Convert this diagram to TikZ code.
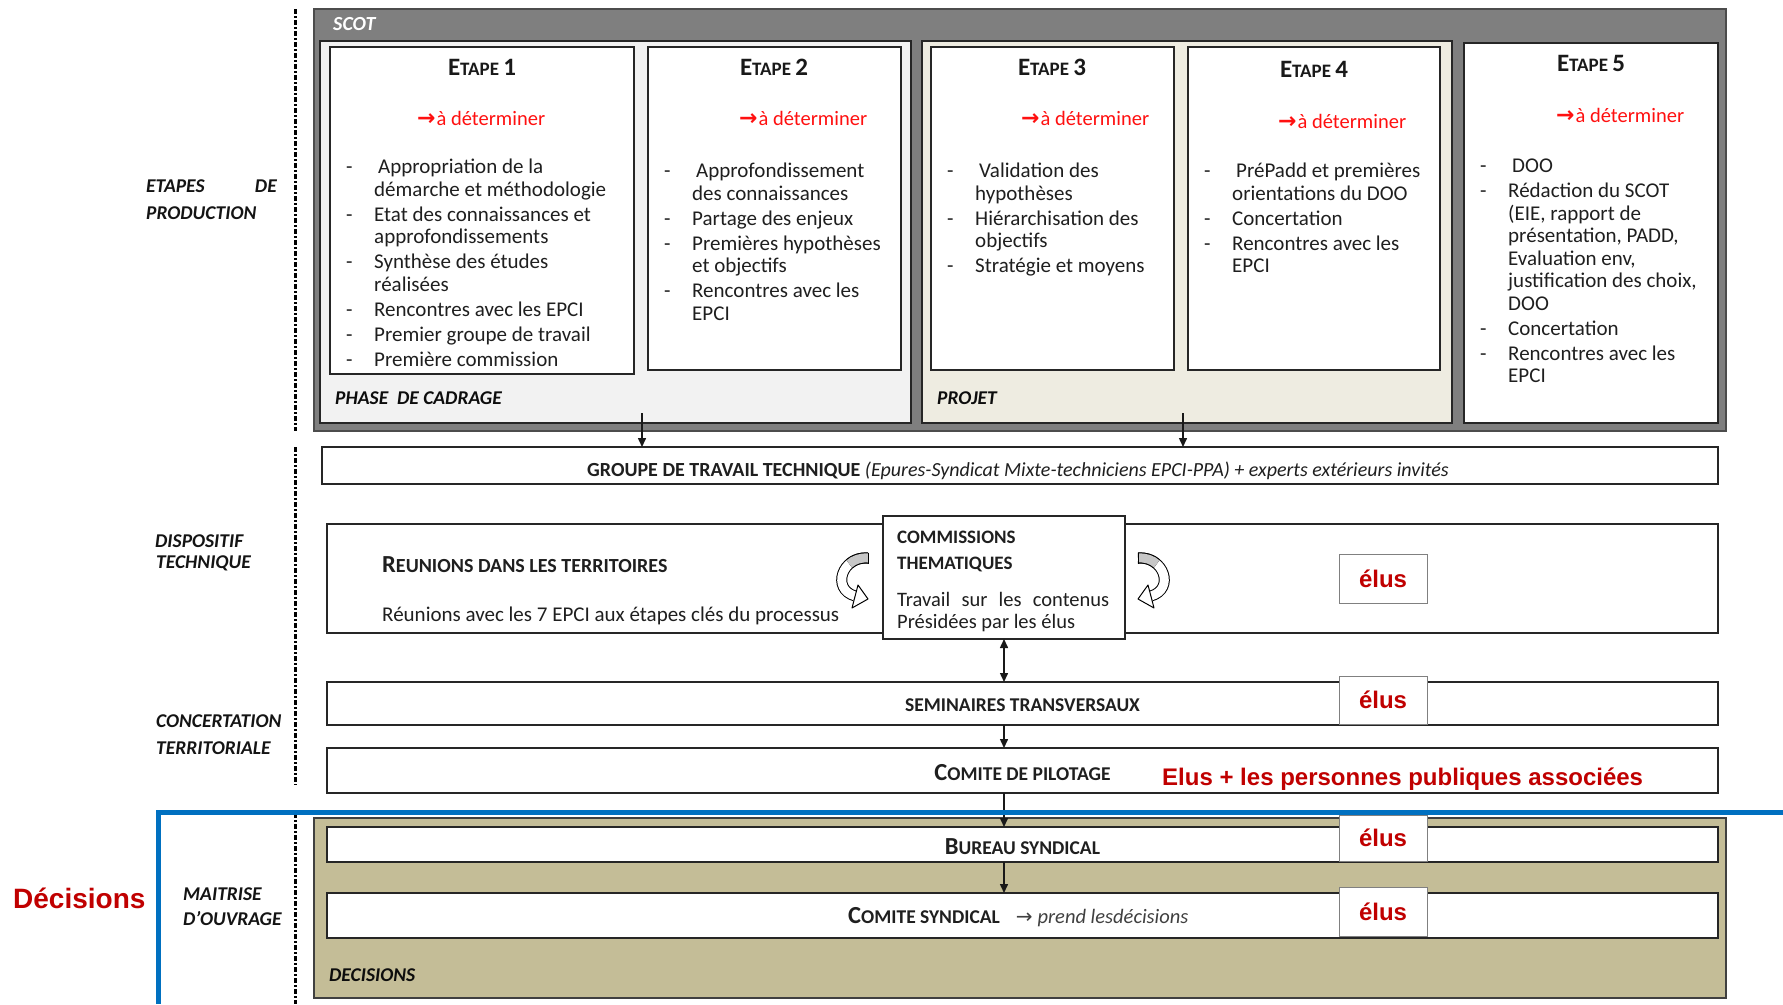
\documentclass[tikz,border=0pt]{standalone}
\usepackage{fontspec}
\setmainfont{Carlito}
\newfontfamily\arialf{Liberation Sans}
\newfontfamily\djv{DejaVu Sans}
\usetikzlibrary{arrows.meta}
\definecolor{scotgray}{HTML}{7F7F7F}
\definecolor{phasegray}{HTML}{F2F2F2}
\definecolor{projbeige}{HTML}{EEECE1}
\definecolor{decbeige}{HTML}{C4BD97}
\definecolor{elusred}{HTML}{C00000}
\definecolor{detred}{HTML}{FF1010}
\definecolor{blueline}{HTML}{0070C0}
\newcommand{\fsz}[2]{\fontsize{#1pt}{#2pt}\selectfont}
\newcommand{\capA}[1]{{\fsz{24.5}{24}#1}}
\newcommand{\etp}[1]{{\fsz{25}{25}E}TAPE {\fsz{25}{25}#1}}
\newcommand{\detarr}{{\djv\bfseries\fsz{22}{22}→}\hspace{1pt}à déterminer}
\tikzset{
  box/.style={draw=black!85, line width=2pt, fill=white, anchor=north west, inner sep=0pt, outer sep=0pt},
  elusbox/.style={draw=black!50, line width=1pt, fill=white, minimum width=88pt, inner sep=0pt, font=\arialf\bfseries\fsz{24}{26}, text=elusred},
  lbl/.style={anchor=base west, inner sep=0pt, font=\bfseries\itshape\fsz{19.5}{22}, text=black!92},
  body/.style={inner sep=0pt, font=\fsz{21}{22.5}, text=black!88},
  det/.style={anchor=base west, inner sep=0pt, font=\fsz{20.5}{22.5}, text=detred},
  title/.style={anchor=base, inner sep=0pt, font=\bfseries\fsz{19}{22}, text=black!90},
  caps/.style={inner sep=0pt, font=\bfseries\fsz{19.5}{22}, text=black!88},
  arr/.style={-{Triangle[length=9pt,width=8pt]}, line width=1.5pt, draw=black!90},
  dblarr/.style={{Triangle[length=9pt,width=8pt]}-{Triangle[length=9pt,width=8pt]}, line width=1.5pt, draw=black!90},
  sep/.style={line width=3pt, dash pattern=on 5pt off 2pt on 2pt off 2pt},
  curvarr/.pic={
    \draw[line width=1pt, double=white, double distance=9pt] (0,0) .. controls (-26,-2) and (-37,31) .. (-13,38);
    \draw[line width=1pt, double=black!22, double distance=9pt] (0,0) .. controls (-7.8,-0.6) and (-14.2,1.9) .. (-18.7,5.9);
    \draw[line width=1pt] (0,-5.5) -- (0,5.5);
    \draw[line width=1pt, fill=white, line join=round] (-10,27) -- (0,41) -- (-16,50) -- cycle;
  }
}
\begin{document}
\begin{tikzpicture}[x=1pt,y=-1pt]
\useasboundingbox (0,0) rectangle (1783,1004);
\fill[white] (0,0) rectangle (1783,1004);

% separators
\draw[sep] (295,9) -- (295,431);
\draw[sep] (295,447) -- (295,785);
\draw[sep] (295,813) -- (295,1004);

% left labels
\node[lbl] (lab1a) at (146,192.5) {ETAPES};
\node[lbl, anchor=base east] (lab1b) at (277,192.5) {DE};
\node[lbl] (lab1c) at (146,219) {PRODUCTION};
\node[lbl] (lab2a) at (155,547) {DISPOSITIF};
\node[lbl] (lab2b) at (156,568) {TECHNIQUE};
\node[lbl] (lab3a) at (156,727) {CONCERTATION};
\node[lbl] (lab3b) at (156,754) {TERRITORIALE};
\node[lbl] (lab4a) at (183,900) {MAITRISE};
\node[lbl] (lab4b) at (183,925) {D'OUVRAGE};

% SCOT frame
\node[box, fill=scotgray, draw=black!70, line width=2.5pt, minimum width=1412pt, minimum height=422pt] (scot) at (314,9) {};
\node[anchor=base west, inner sep=0pt, font=\bfseries\itshape\fsz{20}{22}, text=white] (scotlbl) at (333,30) {SCOT};
\node[box, fill=phasegray, minimum width=591pt, minimum height=382pt] (phase) at (320,41) {};
\node[box, fill=projbeige, minimum width=530pt, minimum height=382pt] (projet) at (922,41) {};
\node[box, minimum width=254pt, minimum height=380pt] (e5) at (1464,43) {};
\node[box, minimum width=304pt, minimum height=327pt] (e1) at (330,47) {};
\node[box, minimum width=253pt, minimum height=323pt] (e2) at (648,47) {};
\node[box, minimum width=243pt, minimum height=323pt] (e3) at (931,47) {};
\node[box, minimum width=252pt, minimum height=323pt] (e4) at (1188,47) {};

\node[lbl, text=black!95] (phlbl) at (335,404) {PHASE\ \ DE CADRAGE};
\node[lbl, text=black!95] (prlbl) at (937,404) {PROJET};

% titles
\node[title] (t1) at (482,75.5) {\etp{1}};
\node[title] (t2) at (774,75.5) {\etp{2}};
\node[title] (t3) at (1052,75.5) {\etp{3}};
\node[title] (t4) at (1314,77.5) {\etp{4}};
\node[title] (t5) at (1591,71.5) {\etp{5}};

% a determiner
\node[det] (d1) at (417,125) {\detarr};
\node[det] (d2) at (739,125) {\detarr};
\node[det] (d3) at (1021,125) {\detarr};
\node[det] (d4) at (1278,128) {\detarr};
\node[det] (d5) at (1556,122) {\detarr};

% lists
\node[body, anchor=north west] (l1) at (346,158) {\begin{tabular}{@{}p{28pt}@{}l@{}}
-& \hspace{4pt}Appropriation de la\\
 & démarche et méthodologie\\[2.5pt]
-& Etat des connaissances et\\
 & approfondissements\\[2.5pt]
-& Synthèse des études\\
 & réalisées\\[2.5pt]
-& Rencontres avec les EPCI\\[2.5pt]
-& Premier groupe de travail\\[2.5pt]
-& Première commission
\end{tabular}};
\node[body, anchor=north west] (l2) at (664,162) {\begin{tabular}{@{}p{28pt}@{}l@{}}
-& \hspace{4pt}Approfondissement\\
 & des connaissances\\[2.5pt]
-& Partage des enjeux\\[2.5pt]
-& Premières hypothèses\\
 & et objectifs\\[2.5pt]
-& Rencontres avec les\\
 & EPCI
\end{tabular}};
\node[body, anchor=north west] (l3) at (947,162) {\begin{tabular}{@{}p{28pt}@{}l@{}}
-& \hspace{4pt}Validation des\\
 & hypothèses\\[2.5pt]
-& Hiérarchisation des\\
 & objectifs\\[2.5pt]
-& Stratégie et moyens
\end{tabular}};
\node[body, anchor=north west] (l4) at (1204,162) {\begin{tabular}{@{}p{28pt}@{}l@{}}
-& \hspace{4pt}PréPadd et premières\\
 & orientations du DOO\\[2.5pt]
-& Concertation\\[2.5pt]
-& Rencontres avec les\\
 & EPCI
\end{tabular}};
\node[body, anchor=north west] (l5) at (1480,157) {\begin{tabular}{@{}p{28pt}@{}l@{}}
-& \hspace{4pt}DOO\\[2.5pt]
-& Rédaction du SCOT\\
 & (EIE, rapport de\\
 & présentation, PADD,\\
 & Evaluation env,\\
 & justification des choix,\\
 & DOO\\[2.5pt]
-& Concertation\\[2.5pt]
-& Rencontres avec les\\
 & EPCI
\end{tabular}};

% groupe de travail technique
\node[box, minimum width=1396pt, minimum height=37pt] (groupe) at (322,447) {};
\node[anchor=base west, inner sep=0pt, font=\fsz{20}{22}, text=black!88] (groupet) at (587,476)
  {{\bfseries GROUPE DE TRAVAIL TECHNIQUE} {\itshape (Epures-Syndicat Mixte-techniciens EPCI-PPA) + experts extérieurs invités}};
\coordinate (a1) at (642,413);
\coordinate (a2) at (1183,413);
\draw[arr] (a1) -- (a1 |- groupe.north);
\draw[arr] (a2) -- (a2 |- groupe.north);

% reunions
\node[box, minimum width=1391pt, minimum height=109pt] (reun) at (327,524) {};
\node[caps, anchor=base west, font=\bfseries\fsz{20}{22}] (reunt) at (382,572) {\capA{R}EUNIONS DANS LES TERRITOIRES};
\node[body, anchor=base west, font=\fsz{21}{22.5}] (reund) at (382,621) {Réunions avec les 7 EPCI aux étapes clés du processus};

% commissions
\node[box, minimum width=242pt, minimum height=123pt] (comm) at (883,516) {};
\node[anchor=base west, inner sep=0pt, font=\bfseries\fsz{19}{22}, text=black!88] (ct1) at (897,543) {COMMISSIONS};
\node[anchor=base west, inner sep=0pt, font=\bfseries\fsz{19}{22}, text=black!88] (ct2) at (897,569) {THEMATIQUES};
\node[body, anchor=base west, font=\fsz{20.5}{22.5}] (ct3) at (897,606) {\makebox[212pt][s]{Travail sur les contenus}};
\node[body, anchor=base west, font=\fsz{20.5}{22.5}] (ct4) at (897,628) {Présidées par les élus};

\pic at (868,558) {curvarr};
\pic[xscale=-1] at (1138,558) {curvarr};

\node[elusbox, minimum height=49pt] (el1) at (1383,578.5) {élus};

% seminaires & comite de pilotage
\node[box, minimum width=1391pt, minimum height=43pt] (semi) at (327,682) {};
\node[caps] (semit) at ([yshift=-2pt]semi.center) {SEMINAIRES TRANSVERSAUX};
\node[elusbox, minimum height=48pt] (el2) at (1383,700) {élus};
\node[box, minimum width=1391pt, minimum height=45pt] (pilot) at (327,748) {};
\node[caps] (pilott) at ([yshift=-2pt]pilot.center) {\capA{C}OMITE DE PILOTAGE};
\node[anchor=base west, inner sep=0pt, font=\arialf\bfseries\fsz{24}{26}, text=elusred] (ppa) at (1162,785) {Elus + les personnes publiques associées};

% decisions
\node[box, fill=decbeige, draw=black!75, minimum width=1412pt, minimum height=180pt] (dec) at (314,818) {};
\node[lbl, text=black!95] (declbl) at (329,981) {DECISIONS};
\node[box, minimum width=1391pt, minimum height=35pt] (bureau) at (327,827) {};
\node[caps] (bureaut) at ([yshift=-2.5pt]bureau.center) {\capA{B}UREAU SYNDICAL};
\node[box, minimum width=1391pt, minimum height=45pt] (csyn) at (327,893) {};
\node[caps, anchor=base west] (csynt) at (848,923)
  {\capA{C}OMITE SYNDICAL\hspace{16pt}{\mdseries\djv\fsz{20}{20}\textcolor{black!75}{→}}\hspace{5pt}{\mdseries\itshape\fsz{20.5}{22}\textcolor{black!75}{prend lesdécisions}}};
\node[elusbox, minimum height=46pt] (el3) at (1383,838) {élus};
\node[elusbox, minimum height=49pt] (el4) at (1383,911.5) {élus};

% vertical connectors
\draw[dblarr] (comm.south) -- (comm.south |- semi.north);
\draw[arr] (semi.south -| comm.south) -- (pilot.north -| comm.south);
\draw[arr] (pilot.south -| comm.south) -- (bureau.north -| comm.south);
\draw[arr] (bureau.south -| comm.south) -- (csyn.north -| comm.south);

% blue decision frame
\draw[line width=5pt, blueline, line join=miter] (1783,812) -- (158,812) -- (158,1004);
\node[anchor=base west, inner sep=0pt, font=\arialf\bfseries\fsz{28}{30}, text=elusred] (decis) at (13,908) {Décisions};
\end{tikzpicture}
\end{document}
